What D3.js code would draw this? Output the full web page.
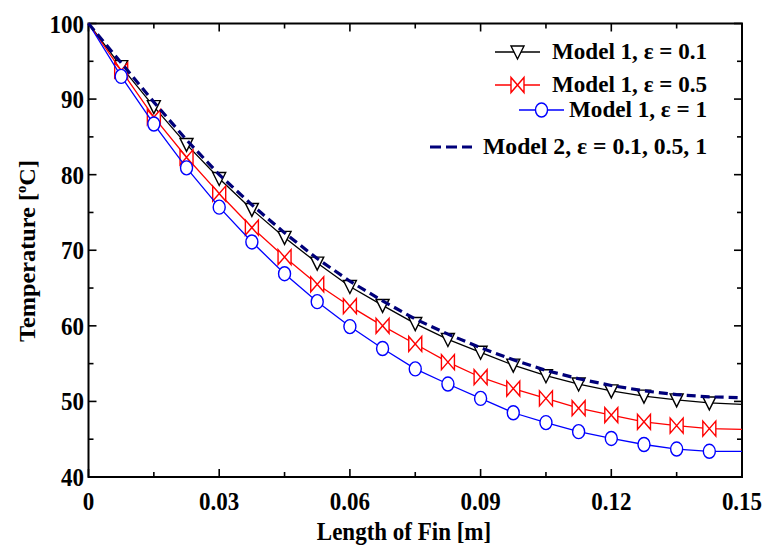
<!DOCTYPE html>
<html><head><meta charset="utf-8">
<script src="https://cdn.jsdelivr.net/npm/d3@7"></script>
<style>
body{margin:0;background:#fff;}
text{font-family:"Liberation Serif","Times New Roman",serif;font-weight:bold;fill:#000;}
</style></head>
<body><svg id="c" width="763" height="547"></svg>
<script>
// Data (x in m, temperature in °C)
const lengths = [0,0.0075,0.015,0.0225,0.03,0.0375,0.045,0.0525,0.06,0.0675,0.075,0.0825,0.09,0.0975,0.105,0.1125,0.12,0.1275,0.135,0.1425,0.15];
const model1Eps01 = [100,94.3,89.0,84.0,79.5,75.4,71.7,68.3,65.2,62.7,60.3,58.2,56.5,54.8,53.4,52.3,51.4,50.7,50.2,49.8,49.6];
const model1Eps05 = [100,93.8,87.6,82.3,77.5,73.0,69.1,65.5,62.6,60.0,57.6,55.2,53.2,51.7,50.4,49.1,48.2,47.3,46.8,46.4,46.3];
const model1Eps1  = [100,93.0,86.7,80.9,75.7,71.1,66.9,63.2,59.9,57.0,54.3,52.3,50.4,48.5,47.2,46.0,45.1,44.3,43.7,43.4,43.4];
const model2      = [100,94.8,89.6,84.6,80.0,76.0,72.3,68.9,65.9,63.3,60.9,58.9,57.1,55.5,54.1,53.0,52.1,51.4,50.9,50.6,50.5];
const xTicks = [0,0.03,0.06,0.09,0.12,0.15];
const xTickLabels = ["0","0.03","0.06","0.09","0.12","0.15"];
const yTicks = [40,50,60,70,80,90,100];
const legendLabels = ["Model 1, \u03b5 = 0.1","Model 1, \u03b5 = 0.5","Model 1, \u03b5 = 1","Model 2, \u03b5 = 0.1, 0.5, 1"];

const svg = d3.select("#c");
const L=88.5, R=742, T=23.5, B=477;
const x = d3.scaleLinear().domain([0,0.15]).range([L,R]);
const y = d3.scaleLinear().domain([40,100]).range([B,T]);
const SY = 1.14; // vertical stretch of glyphs as in the reference

// Frame and ticks
const minorX = d3.range(0,0.1501,0.015), minorY = d3.range(40,100.1,5);
const isMajX = v => xTicks.some(t=>Math.abs(t-v)<1e-6);
const isMajY = v => yTicks.some(t=>Math.abs(t-v)<1e-6);
const tk = svg.append("g").attr("stroke","#000").attr("stroke-width",1.6);
minorX.forEach(v=>{
  const len = isMajX(v)?8:5;
  tk.append("line").attr("x1",x(v)).attr("x2",x(v)).attr("y1",B).attr("y2",B-len);
  tk.append("line").attr("x1",x(v)).attr("x2",x(v)).attr("y1",T).attr("y2",T+len);
});
minorY.forEach(v=>{
  const len = isMajY(v)?8:5;
  tk.append("line").attr("x1",L).attr("x2",L+len).attr("y1",y(v)).attr("y2",y(v));
  tk.append("line").attr("x1",R).attr("x2",R-len).attr("y1",y(v)).attr("y2",y(v));
});
svg.append("rect").attr("x",L).attr("y",T).attr("width",R-L).attr("height",B-T)
  .attr("fill","none").attr("stroke","#000").attr("stroke-width",2);

// Tick labels
svg.append("g").selectAll("text").data(xTicks).join("text")
  .attr("transform",d=>`translate(${x(d)},510) scale(1,${SY})`).attr("text-anchor","middle").attr("font-size",23)
  .text((d,i)=>xTickLabels[i]);
svg.append("g").selectAll("text").data(yTicks).join("text")
  .attr("transform",d=>`translate(84,${y(d)+9}) scale(1,${SY})`).attr("text-anchor","end").attr("font-size",23)
  .text(d=>d);

// Axis titles
svg.append("text").attr("transform",`translate(404,540) scale(1,${SY})`).attr("text-anchor","middle").attr("font-size",23)
  .text("Length of Fin [m]");
const yt = svg.append("text").attr("transform","translate(35,251) rotate(-90)")
  .attr("text-anchor","middle").attr("font-size",23).attr("textLength",182).attr("lengthAdjust","spacingAndGlyphs");
yt.append("tspan").text("Temperature [");
yt.append("tspan").attr("font-size",14).attr("dy",-9).text("o");
yt.append("tspan").attr("dy",9).text("C]");

// Marker shapes
function triangle(g,cx,cy){
  g.append("path").attr("d",`M${cx-6.5},${cy-6}L${cx+6.5},${cy-6}L${cx},${cy+7}Z`)
   .attr("fill","#fff").attr("stroke","#000").attr("stroke-width",1.4);
}
function bowtie(g,cx,cy){
  g.append("path").attr("d",`M${cx-6.5},${cy-7.5}L${cx-6.5},${cy+7.5}L${cx+6.5},${cy-7.5}L${cx+6.5},${cy+7.5}Z`)
   .attr("fill","#fff").attr("stroke","#ff0000").attr("stroke-width",1.4);
}
function circle(g,cx,cy){
  g.append("ellipse").attr("cx",cx).attr("cy",cy).attr("rx",6).attr("ry",7)
   .attr("fill","#fff").attr("stroke","#0000ff").attr("stroke-width",1.4);
}

const line = d3.line().x(d=>x(d[0])).y(d=>y(d[1]));
const series = [
  {vals:model1Eps01,color:"#000",marker:triangle},
  {vals:model1Eps05,color:"#ff0000",marker:bowtie},
  {vals:model1Eps1,color:"#0000ff",marker:circle}
];
series.forEach(s=>{
  const pts = lengths.map((t,i)=>[t,s.vals[i]]);
  const g = svg.append("g");
  g.append("path").attr("d",line(pts)).attr("fill","none").attr("stroke",s.color).attr("stroke-width",1.3);
  pts.forEach((p,i)=>{ if(i>0 && i<pts.length-1) s.marker(g,x(p[0]),y(p[1])); });
});
svg.append("path").attr("d",line(lengths.map((t,i)=>[t,model2[i]])))
  .attr("fill","none").attr("stroke","#00007a").attr("stroke-width",3.2).attr("stroke-dasharray","9,5");

// Legend
const lg = svg.append("g");
const leg = [
  {y:52, x1:495,x2:540, marker:triangle, color:"#000", w:155},
  {y:85, x1:495,x2:540, marker:bowtie, color:"#ff0000", w:155},
  {y:110,x1:519,x2:564, marker:circle, color:"#0000ff", w:138},
  {y:147,x1:430,x2:472, marker:null, color:"#00007a", w:224}
];
leg.forEach((e,i)=>{
  if(e.marker){
    lg.append("line").attr("x1",e.x1).attr("x2",e.x2).attr("y1",e.y).attr("y2",e.y).attr("stroke",e.color).attr("stroke-width",1.3);
    e.marker(lg,(e.x1+e.x2)/2,e.y);
  } else {
    lg.append("line").attr("x1",e.x1).attr("x2",e.x2).attr("y1",e.y).attr("y2",e.y).attr("stroke",e.color)
      .attr("stroke-width",3.2).attr("stroke-dasharray","11,5");
  }
  lg.append("text").attr("transform",`translate(707,${e.y+7}) scale(1,${SY})`).attr("text-anchor","end").attr("font-size",21)
    .attr("textLength",e.w).attr("lengthAdjust","spacingAndGlyphs").text(legendLabels[i]);
});
</script></body></html>
